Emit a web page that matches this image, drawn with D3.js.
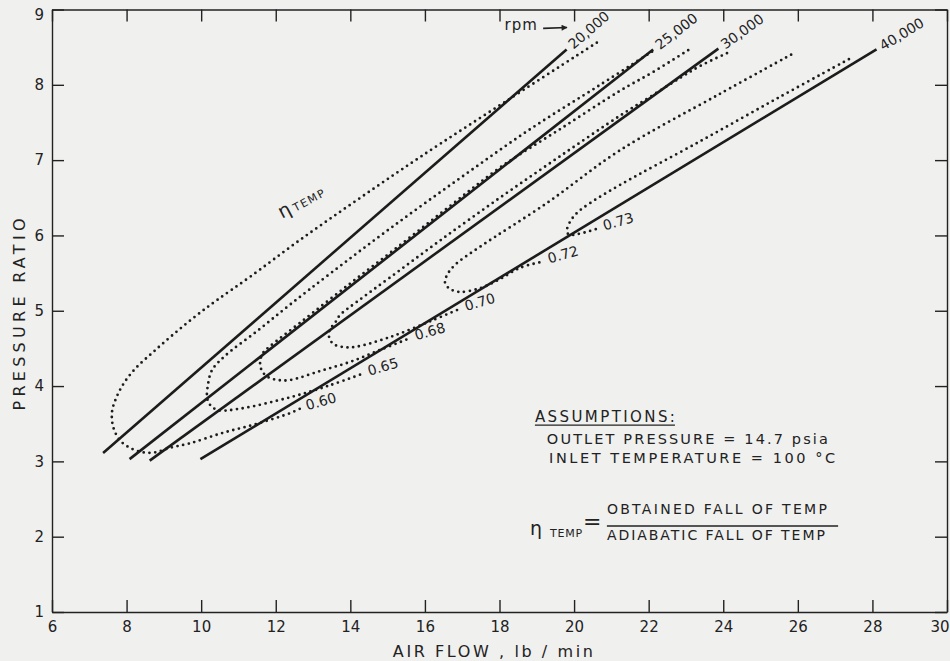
<!DOCTYPE html>
<html lang="en">
<head>
  <meta charset="UTF-8">
  <title>Pressure ratio vs air flow</title>
  <script src="https://d3js.org/d3.v7.min.js"></script>
  <style>
    html, body {
      margin: 0;
      padding: 0;
      background: #f0f0ef;
    }
    svg { display: block; font-family: "DejaVu Sans", sans-serif; }
    .axis path, .axis line { stroke: #222; stroke-width: 1.4px; }
    .axis text { font-size: 15px; fill: #222; font-family: "DejaVu Sans", sans-serif; }
    .speed { fill: none; stroke: #1c1c1c; stroke-width: 2.6px; }
    .eff { fill: none; stroke: #1c1c1c; stroke-width: 2.8px; stroke-dasharray: 0 5.8; stroke-linecap: round; }
    .lbl { fill: #222; }
  </style>
</head>
<body>
  <div id="container"></div>
  <script>
    // rpm lines: air flow (lb/min) and pressure ratio at both ends
    const speeds = ['20,000', '25,000', '30,000', '40,000']
    const speedFlow = [[7.37, 19.8], [8.08, 22.12], [8.62, 23.87], [9.98, 28.11]]
    const speedRatio = [[3.11, 8.47], [3.03, 8.47], [3.01, 8.48], [3.03, 8.47]]

    // temperature efficiency contours, [air flow, pressure ratio], upper end -> lower end
    const effLevels = ['0.60', '0.65', '0.68', '0.70', '0.72', '0.73']
    const eta60 = [[20.61, 8.56], [18.23, 7.80], [15.87, 7.04], [14.18, 6.47], [12.65, 5.94], [11.31, 5.45],
      [10.42, 5.14], [9.83, 4.92], [9.24, 4.68], [8.71, 4.45], [8.25, 4.24], [7.93, 4.04], [7.72, 3.84],
      [7.61, 3.66], [7.64, 3.46], [7.82, 3.28], [8.09, 3.18], [8.44, 3.12], [8.76, 3.12], [9.16, 3.18],
      [9.70, 3.24], [10.59, 3.38], [11.50, 3.50], [12.38, 3.64], [12.65, 3.70]]
    const eta65 = [[22.09, 8.44], [20.70, 8.00], [18.82, 7.41], [16.94, 6.76], [15.06, 6.09], [13.45, 5.49],
      [12.38, 5.08], [11.50, 4.73], [10.64, 4.40], [10.29, 4.21], [10.18, 4.01], [10.16, 3.84], [10.24, 3.75],
      [10.45, 3.68], [11.04, 3.70], [12.38, 3.85], [13.45, 4.01], [14.31, 4.16]]
    const eta68 = [[23.06, 8.46], [22.12, 8.17], [21.23, 7.92], [19.62, 7.41], [18.01, 6.90], [16.67, 6.39],
      [15.33, 5.87], [13.99, 5.36], [12.65, 4.84], [11.85, 4.53], [11.66, 4.44], [11.58, 4.32], [11.63, 4.20],
      [11.79, 4.12], [12.06, 4.08], [12.38, 4.08], [13.19, 4.20], [13.99, 4.32], [14.80, 4.48], [15.57, 4.63]]
    const eta70 = [[24.10, 8.42], [23.38, 8.25], [22.84, 8.09], [22.04, 7.84], [21.23, 7.59], [19.62, 7.05],
      [18.01, 6.50], [16.40, 5.93], [15.06, 5.44], [14.18, 5.12], [13.72, 4.94], [13.59, 4.84], [13.45, 4.75],
      [13.43, 4.65], [13.54, 4.56], [13.78, 4.52], [14.13, 4.52], [15.06, 4.65], [16.14, 4.86], [16.91, 5.02]]
    const eta72 = [[25.82, 8.40], [23.91, 7.88], [21.23, 7.13], [19.27, 6.43], [17.48, 5.85], [16.81, 5.61],
      [16.59, 5.47], [16.54, 5.37], [16.67, 5.29], [16.94, 5.25], [17.48, 5.30], [18.01, 5.42], [18.55, 5.57],
      [19.14, 5.65]]
    const eta73 = [[27.37, 8.34], [25.52, 7.84], [23.38, 7.25], [21.23, 6.67], [20.43, 6.43], [20.08, 6.30],
      [19.89, 6.18], [19.81, 6.07], [19.86, 6.01], [20.11, 6.02], [20.43, 6.06], [20.62, 6.09]]
    const contours = [eta60, eta65, eta68, eta70, eta72, eta73]

    // axis ticks
    const xTicks = [6, 8, 10, 12, 14, 16, 18, 20, 22, 24, 26, 28, 30]
    const yTicks = [1, 2, 3, 4, 5, 6, 7, 8, 9]

    const width = 950
    const height = 661

    const svg = d3.select('#container').append('svg')
      .attr('width', width).attr('height', height)

    svg.append('rect').attr('width', width).attr('height', height).attr('fill', '#f0f0ef')

    const x = d3.scaleLinear().domain([6, 30]).range([52, 947])
    const y = d3.scaleLinear().domain([1, 9]).range([612, 9.5])

    // frame: ticks point inward on all four sides
    const xAxis = svg.append('g').attr('class', 'axis')
      .attr('transform', `translate(0,${y(1)})`)
      .call(d3.axisBottom(x).tickValues(xTicks).tickSizeInner(-12).tickSizeOuter(0).tickPadding(9).tickFormat(d3.format('d')))
    // last label sits flush with the right border
    xAxis.selectAll('.tick text').filter(d => d === 30).attr('text-anchor', 'end').attr('dx', 2)

    const yAxis = svg.append('g').attr('class', 'axis')
      .attr('transform', `translate(${x(6)},0)`)
      .call(d3.axisLeft(y).tickValues(yTicks).tickSizeInner(-12).tickSizeOuter(0).tickPadding(8).tickFormat(d3.format('d')))
    yAxis.selectAll('.tick text').filter(d => d === 9).attr('dy', '0.65em')

    svg.append('g').attr('class', 'axis')
      .attr('transform', `translate(0,${y(9)})`)
      .call(d3.axisTop(x).tickValues(xTicks).tickSizeInner(-12).tickSizeOuter(0).tickFormat(''))
    svg.append('g').attr('class', 'axis')
      .attr('transform', `translate(${x(30)},0)`)
      .call(d3.axisRight(y).tickValues(yTicks).tickSizeInner(-12).tickSizeOuter(0).tickFormat(''))

    // axis titles
    svg.append('text').attr('class', 'lbl')
      .attr('transform', `translate(25,${y(4.95)}) rotate(-90)`)
      .attr('text-anchor', 'middle').attr('font-size', 16)
      .attr('textLength', 192).attr('lengthAdjust', 'spacing')
      .text('PRESSURE RATIO')
    svg.append('text').attr('class', 'lbl')
      .attr('x', x(15.14)).attr('y', 657)
      .attr('font-size', 16)
      .attr('textLength', 200).attr('lengthAdjust', 'spacing')
      .text('AIR FLOW , lb / min')

    const line = d3.line().x(d => x(d[0])).y(d => y(d[1]))
    const smooth = d3.line().x(d => x(d[0])).y(d => y(d[1])).curve(d3.curveCatmullRom.alpha(0.5))

    // constant speed lines
    speeds.forEach((s, i) => {
      const pts = speedFlow[i].map((f, j) => [f, speedRatio[i][j]])
      svg.append('path').attr('class', 'speed').attr('d', line(pts))
      const x0 = x(pts[0][0]), y0 = y(pts[0][1]), x1 = x(pts[1][0]), y1 = y(pts[1][1])
      const a = Math.atan2(y1 - y0, x1 - x0)
      const lx = x1 + 5 * Math.cos(a), ly = y1 + 5 * Math.sin(a)
      svg.append('text').attr('class', 'lbl')
        .attr('transform', `translate(${lx},${ly}) rotate(${a * 180 / Math.PI})`)
        .attr('dy', '0.35em').attr('font-size', 14)
        .text(s)
    })

    // efficiency contours
    contours.forEach((c, i) => {
      svg.append('path').attr('class', 'eff').attr('d', smooth(c))
      const end = c[c.length - 1]
      svg.append('text').attr('class', 'lbl')
        .attr('transform', `translate(${x(end[0]) + 6},${y(end[1]) - 3}) rotate(-16)`)
        .attr('dy', '0.35em').attr('font-size', 14)
        .text(effLevels[i])
    })

    // rpm arrow
    svg.append('defs').append('marker')
      .attr('id', 'arr').attr('viewBox', '0 0 10 10').attr('refX', 9).attr('refY', 5)
      .attr('markerWidth', 9).attr('markerHeight', 6).attr('orient', 'auto').attr('markerUnits', 'userSpaceOnUse')
      .append('path').attr('d', 'M0,0L10,5L0,10z').attr('fill', '#222')
    svg.append('text').attr('class', 'lbl')
      .attr('x', x(19.03)).attr('y', y(8.73)).attr('text-anchor', 'end').attr('font-size', 15)
      .attr('letter-spacing', 1).text('rpm')
    svg.append('line')
      .attr('x1', x(19.17)).attr('y1', y(8.75)).attr('x2', x(19.81)).attr('y2', y(8.76))
      .attr('stroke', '#222').attr('stroke-width', 1.6).attr('marker-end', 'url(#arr)')

    // eta TEMP tag on the outer contour
    const tag = svg.append('text').attr('class', 'lbl')
      .attr('transform', `translate(${x(12.17)},${y(6.22)}) rotate(-28)`)
    tag.append('tspan').attr('font-size', 19).text('η')
    tag.append('tspan').attr('font-size', 11).attr('dx', 3).attr('letter-spacing', 1.5).text('TEMP')

    // assumptions
    const note = svg.append('g').attr('class', 'lbl')
    note.append('text').attr('x', x(18.95)).attr('y', y(3.52)).attr('font-size', 15)
      .attr('textLength', 140).attr('lengthAdjust', 'spacing').text('ASSUMPTIONS:')
    note.append('line').attr('x1', x(18.95)).attr('x2', x(18.95) + 140)
      .attr('y1', y(3.52) + 3).attr('y2', y(3.52) + 3).attr('stroke', '#222').attr('stroke-width', 1.3)
    note.append('text').attr('x', x(19.27)).attr('y', y(3.23)).attr('font-size', 14.5)
      .attr('textLength', 281).attr('lengthAdjust', 'spacing').text('OUTLET PRESSURE = 14.7 psia')
    note.append('text').attr('x', x(19.33)).attr('y', y(2.98)).attr('font-size', 14.5)
      .attr('textLength', 286).attr('lengthAdjust', 'spacing').text('INLET TEMPERATURE = 100 °C')

    note.append('text').attr('x', x(18.82)).attr('y', y(2.02)).attr('font-size', 19).text('η')
    note.append('text').attr('x', x(18.82) + 20).attr('y', y(2.02) + 2).attr('font-size', 11)
      .attr('textLength', 32).attr('lengthAdjust', 'spacing').text('TEMP')
    note.append('text').attr('x', x(18.82) + 53).attr('y', y(2.02) - 6).attr('font-size', 22).text('=')
    note.append('text').attr('x', x(20.88)).attr('y', y(2.30)).attr('font-size', 14)
      .attr('textLength', 220).attr('lengthAdjust', 'spacing').text('OBTAINED FALL OF TEMP')
    note.append('line').attr('x1', x(20.88)).attr('x2', x(27.08))
      .attr('y1', y(2.142)).attr('y2', y(2.142)).attr('stroke', '#222').attr('stroke-width', 1.3)
    note.append('text').attr('x', x(20.88)).attr('y', y(1.956)).attr('font-size', 14)
      .attr('textLength', 218).attr('lengthAdjust', 'spacing').text('ADIABATIC FALL OF TEMP')
  </script>
</body>
</html>
